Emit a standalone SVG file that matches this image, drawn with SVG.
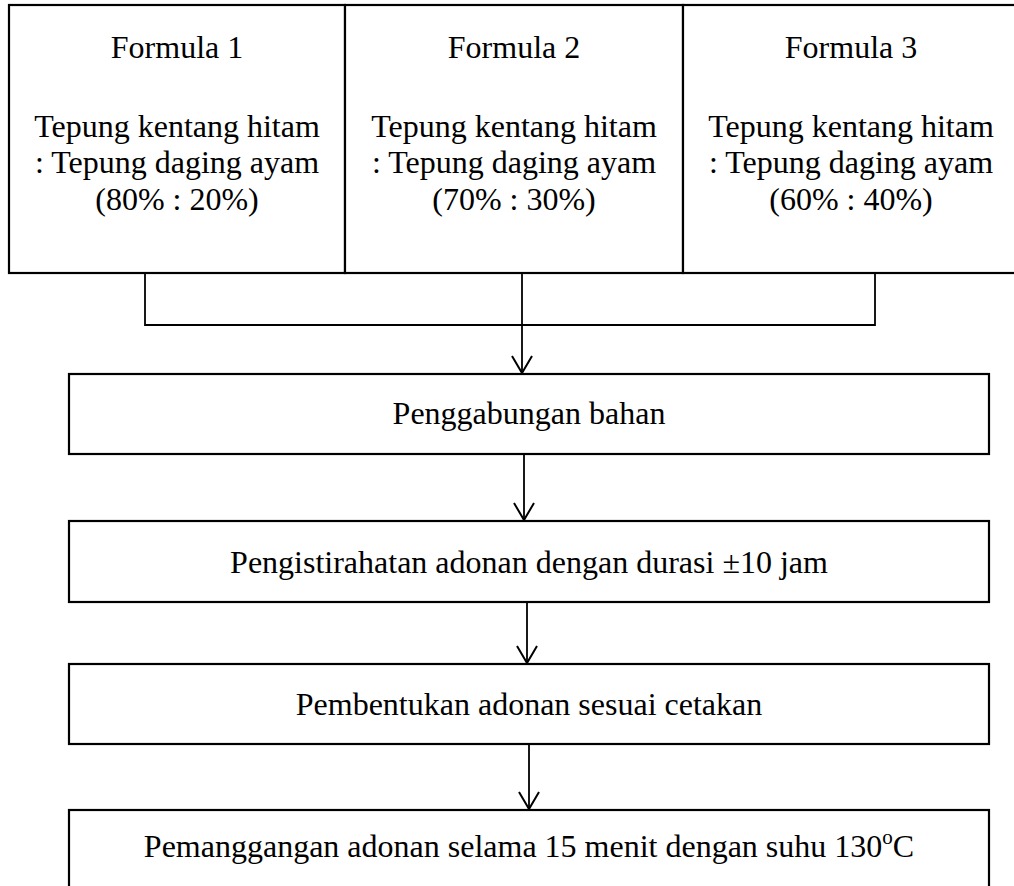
<svg xmlns="http://www.w3.org/2000/svg" width="1014" height="886" viewBox="0 0 1014 886">
<style>
.box{fill:#fff;stroke:#000;stroke-width:2.2}
.t{font-family:"Liberation Serif","Times New Roman",serif;font-size:32px;fill:#000;text-anchor:middle}
.c{fill:none;stroke:#000;stroke-width:1.8}
</style>
<defs>
<marker id="v" markerUnits="userSpaceOnUse" markerWidth="24" markerHeight="22" refX="12" refY="20" viewBox="0 0 24 22">
<path d="M2 3 L12 20 L22 3" fill="none" stroke="#000" stroke-width="2"/>
</marker>
</defs>
<rect width="1014" height="886" fill="#fff"/>
<g id="formula1">
<rect class="box" x="9" y="5" width="336" height="268"/>
<text class="t" x="177" y="58">Formula 1</text>
<text class="t" x="177" y="137">Tepung kentang hitam</text>
<text class="t" x="177" y="173">: Tepung daging ayam</text>
<text class="t" x="177" y="210">(80% : 20%)</text>
</g>
<g id="formula2">
<rect class="box" x="345" y="5" width="338" height="268"/>
<text class="t" x="514" y="58">Formula 2</text>
<text class="t" x="514" y="137">Tepung kentang hitam</text>
<text class="t" x="514" y="173">: Tepung daging ayam</text>
<text class="t" x="514" y="210">(70% : 30%)</text>
</g>
<g id="formula3">
<rect class="box" x="683" y="5" width="336" height="268"/>
<text class="t" x="851" y="58">Formula 3</text>
<text class="t" x="851" y="137">Tepung kentang hitam</text>
<text class="t" x="851" y="173">: Tepung daging ayam</text>
<text class="t" x="851" y="210">(60% : 40%)</text>
</g>
<g id="penggabungan">
<rect class="box" x="69" y="374" width="920" height="80"/>
<text class="t" x="529" y="424">Penggabungan bahan</text>
</g>
<g id="pengistirahatan">
<rect class="box" x="69" y="521" width="920" height="81"/>
<text class="t" x="529" y="573">Pengistirahatan adonan dengan durasi ±10 jam</text>
</g>
<g id="pembentukan">
<rect class="box" x="69" y="664" width="920" height="80"/>
<text class="t" x="529" y="715">Pembentukan adonan sesuai cetakan</text>
</g>
<g id="pemanggangan">
<rect class="box" x="69" y="810" width="920" height="90"/>
<text class="t" x="529" y="857">Pemanggangan adonan selama 15 menit dengan suhu 130<tspan dy="-13" font-size="21">o</tspan><tspan dy="13">C</tspan></text>
</g>
<g id="connectors">
<path class="c" d="M145 273 V325 H875 V273"/>
<path class="c" d="M522 273 V373" marker-end="url(#v)"/>
<path class="c" d="M524 454 V520" marker-end="url(#v)"/>
<path class="c" d="M527 602 V663" marker-end="url(#v)"/>
<path class="c" d="M529 744 V809" marker-end="url(#v)"/>
</g>
</svg>
